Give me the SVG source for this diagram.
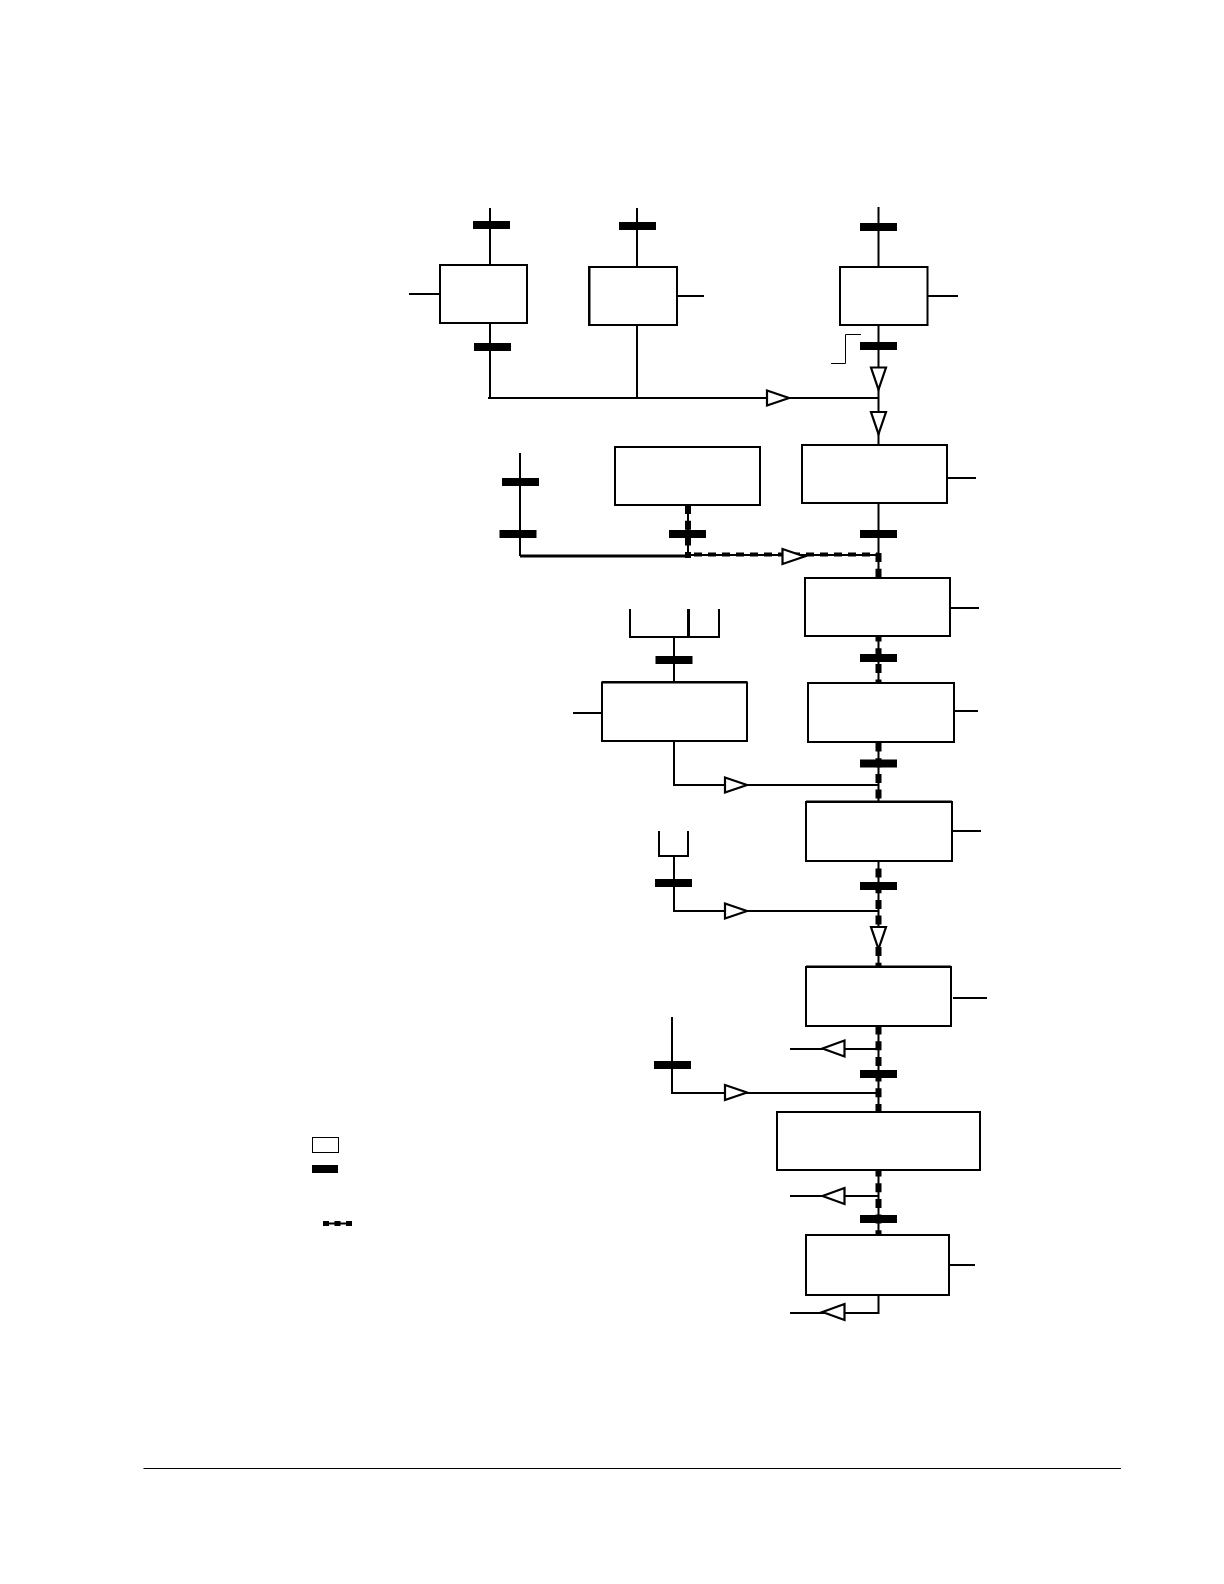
<svg xmlns="http://www.w3.org/2000/svg" width="1224" height="1584" viewBox="0 0 1224 1584">
<style>
.b{fill:#fff;stroke:#000;stroke-width:2}
.l{fill:none;stroke:#000;stroke-width:2}
.d{fill:none;stroke:#000;stroke-width:6;stroke-dasharray:9 6.700}
.t{fill:#fff;stroke:#000;stroke-width:2.200}
.bar{fill:#000}
</style>
<defs>
<polygon id="tr" class="t" points="0,-7.500 22,0 0,7.500"/>
<polygon id="tl" class="t" points="0,-8 -22,0 0,8"/>
<polygon id="td" class="t" points="-7.500,0 7.500,0 0,22"/>
<rect id="bar" class="bar" x="-18.500" y="-4" width="37" height="8"/>
</defs>
<g id="connectors">
<path class="l" d="M490 208V398M637 208V398M488 398H878.500M878.500 207V444"/>
<path class="l" d="M409 294H440M677 296H704M927 296H958M947 478H976M950 608H979M602 713H573M954 711H978M952 831H981M953 998H987M949 1265H975"/>
<path d="M831 363.500H845.500V334.500H861" fill="none" stroke="#000" stroke-width="1"/>
<path class="l" d="M520 453V556"/>
<path d="M520 556H688" fill="none" stroke="#000" stroke-width="3"/>
<path class="l" d="M688 505V555M688 555H878.500M878.500 503V578"/>
<path class="d" d="M688 505V558"/>
<path d="M694 554.500H878" fill="none" stroke="#000" stroke-width="4" stroke-dasharray="8 6"/>
<path class="d" d="M878.500 553V578" stroke-dasharray="9 6.500"/>
<path class="l" d="M878.500 636V683M878.500 742V802M878.500 861V966M878.500 1026V1112M878.500 1169V1234M878.500 1295V1313H790"/>
<path class="d" d="M878.500 636V683" stroke-dashoffset="3.500"/>
<path class="d" d="M878.500 742.500V802"/>
<path class="d" d="M878.500 868.500V966"/>
<path class="d" d="M878.500 1025.500V1112"/>
<path class="d" d="M878.500 1167.500V1234"/>
<path class="l" d="M630 609V637H719V609M674 637V682M688 609V637"/>
<path d="M688.500 609V637" fill="none" stroke="#000" stroke-width="3"/>
<path class="l" d="M674 741V785H878.500M659 831V856H688V831M674 856V911H878.500M672 1017V1093H878.500"/>
<path class="l" d="M790 1049H878.500M790 1196H878.500"/>
</g>
<g id="bars">
<use href="#bar" x="491.500" y="225"/>
<use href="#bar" x="637.500" y="226"/>
<use href="#bar" x="878.500" y="227"/>
<use href="#bar" x="492.500" y="347"/>
<use href="#bar" x="878.500" y="346"/>
<use href="#bar" x="520.500" y="482"/>
<use href="#bar" x="518" y="534"/>
<use href="#bar" x="687.500" y="534"/>
<use href="#bar" x="878.500" y="534"/>
<use href="#bar" x="878.500" y="658"/>
<use href="#bar" x="674" y="660"/>
<use href="#bar" x="878.500" y="763.500"/>
<use href="#bar" x="878.500" y="886"/>
<use href="#bar" x="673.500" y="883"/>
<use href="#bar" x="672.500" y="1065"/>
<use href="#bar" x="878.500" y="1074"/>
<use href="#bar" x="878.500" y="1219"/>
</g>
<g id="arrows">
<use href="#tr" x="767" y="398"/>
<use href="#td" x="878.500" y="367.500"/>
<use href="#td" x="878.500" y="412"/>
<use href="#tr" x="782.500" y="556.500"/>
<use href="#tr" x="725" y="785"/>
<use href="#tr" x="725" y="911"/>
<use href="#td" x="878.500" y="927"/>
<use href="#tl" x="844.500" y="1048.500"/>
<use href="#tr" x="725" y="1092.500"/>
<use href="#tl" x="844.500" y="1196"/>
<use href="#tl" x="844.500" y="1312"/>
</g>
<g id="n1"><rect class="b" x="440" y="265" width="87" height="58"/></g>
<g id="n2"><rect class="b" x="589" y="267" width="88" height="58"/><path class="l" d="M589.500 266V326"/></g>
<g id="n3"><rect class="b" x="840" y="267" width="87.500" height="58"/></g>
<g id="n4"><rect class="b" x="615" y="447" width="145" height="58"/></g>
<g id="n5"><rect class="b" x="802" y="445" width="145" height="58"/></g>
<g id="n6"><rect class="b" x="805" y="578" width="145" height="58"/></g>
<g id="n7"><rect class="b" x="602" y="682.500" width="145" height="58.500"/><path class="l" d="M602 682H747"/></g>
<g id="n8"><rect class="b" x="808" y="683" width="146" height="59"/></g>
<g id="n9"><rect class="b" x="806" y="802" width="146" height="59"/><path class="l" d="M806 801.500H952"/></g>
<g id="n10"><rect class="b" x="806" y="967" width="145" height="59"/><path class="l" d="M806 966.500H951"/></g>
<g id="n11"><rect class="b" x="777" y="1112" width="203" height="58"/></g>
<g id="n12"><rect class="b" x="806" y="1235" width="143" height="60"/></g>
<g id="legend">
<rect x="312.500" y="1137.500" width="26" height="15" fill="#fff" stroke="#000" stroke-width="1"/>
<rect class="bar" x="312" y="1165" width="26" height="8"/>
<path d="M323 1223.500H352" fill="none" stroke="#000" stroke-width="2"/>
<path d="M323 1223.500H352" fill="none" stroke="#000" stroke-width="5" stroke-dasharray="6 5.500"/>
</g>
<path d="M143.500 1468.500H1121" fill="none" stroke="#000" stroke-width="1"/>
</svg>
